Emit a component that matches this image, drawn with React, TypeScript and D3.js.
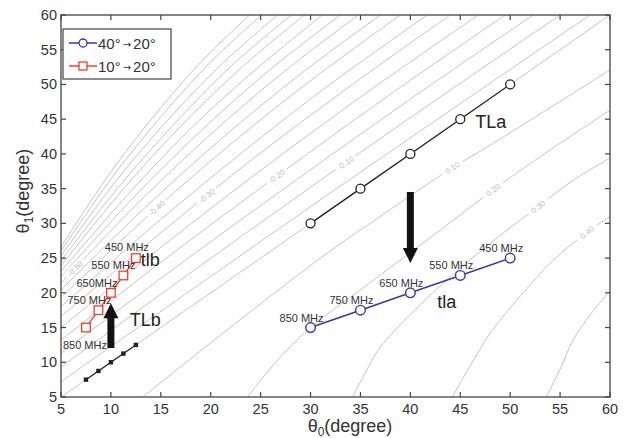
import React from 'react';
import * as d3 from 'd3';

// axis ticks
const xTicks = [5, 10, 15, 20, 25, 30, 35, 40, 45, 50, 55, 60];
const yTicks = [5, 10, 15, 20, 25, 30, 35, 40, 45, 50, 55, 60];

// 40° -> 20° design (tla) and the original line TLa
const tlaTheta0 = [30, 35, 40, 45, 50];
const tlaTheta1 = [15, 17.5, 20, 22.5, 25];
const tlaLabels = ['850 MHz', '750 MHz', '650 MHz', '550 MHz', '450 MHz'];
const TLaTheta1 = [30, 35, 40, 45, 50];

// 10° -> 20° design (tlb) and the original line TLb
const tlbTheta0 = [7.5, 8.75, 10, 11.25, 12.5];
const tlbTheta1 = [15, 17.5, 20, 22.5, 25];
const tlbLabels = ['850 MHz', '750 MHz', '650MHz', '550 MHz', '450 MHz'];
const TLbTheta1 = [7.5, 8.75, 10, 11.25, 12.5];

// background contour lines, [theta0, theta1]
const contourNeg: [number, number][][] = [
  [[5, 7.2], [18.25, 20.6], [31.5, 33.9], [44.75, 47.0], [58, 60]],
  [[5, 9.3], [17.5, 22.4], [30, 35.2], [42.5, 47.7], [55, 60]],
  [[5, 11.3], [16.8, 24.0], [28.7, 36.4], [40.5, 48.4], [52.3, 60]],
  [[5, 13.2], [16.1, 25.6], [27.3, 37.5], [38.4, 49.0], [49.5, 60]],
  [[5, 15.0], [15.5, 27.1], [25.9, 38.6], [36.4, 49.6], [46.8, 60]],
  [[5, 16.6], [14.8, 28.4], [24.5, 39.6], [34.3, 50.1], [44, 60]],
  [[5, 18.0], [14.2, 29.6], [23.4, 40.5], [32.5, 50.6], [41.7, 60]],
  [[5, 19.3], [13.5, 30.8], [22, 41.4], [30.5, 51.1], [39, 60]],
  [[5, 20.4], [13, 31.7], [21, 42.1], [29, 51.5], [37, 60]],
  [[5, 21.4], [12.5, 32.6], [19.9, 42.7], [27.4, 51.9], [34.8, 60]],
  [[5, 22.3], [12, 33.3], [19, 43.3], [26, 52.2], [33, 60]],
  [[5, 23.1], [11.6, 34.0], [18.1, 43.8], [24.7, 52.4], [31.2, 60]],
  [[5, 23.9], [11.1, 34.7], [17.2, 44.3], [23.3, 52.7], [29.4, 60]],
  [[5, 24.6], [10.8, 35.3], [16.6, 44.7], [22.3, 53.0], [28.1, 60]],
  [[5, 25.3], [10.4, 35.9], [15.9, 45.2], [21.3, 53.2], [26.7, 60]],
  [[5, 26.0], [10.0, 36.4], [15.1, 45.5], [20.1, 53.4], [25.1, 60]],
  [[5, 26.6], [9.7, 36.8], [14.5, 45.8], [19.2, 53.5], [23.9, 60]],
];
const contourZero: [number, number][] = [[5, 5], [60, 60]];
const contourPos: [number, number][][] = [
  [[13.2, 5], [20, 12.8], [31, 25], [38, 32], [44.2, 38], [47.7, 41], [60, 52.1]],
  [[23.7, 5], [26.5, 10], [30, 15], [36, 21.5], [42.5, 28.5], [48.3, 34.8], [52, 38.6], [60, 46.3]],
  [[34.2, 5], [35.5, 8.5], [37, 12.2], [43, 21], [49.3, 28.6], [52.8, 32.4], [56.3, 36.2], [60, 39.4]],
  [[44.2, 5], [46, 9.5], [48, 14.2], [51, 19.5], [54.3, 24.7], [57.7, 28.7], [60, 31]],
  [[53.6, 5], [55, 9], [56.3, 13.2], [58, 16.8], [60, 20.3]],
];

const contourLabelText = ['-0.50', '-0.40', '-0.30', '-0.20', '-0.10', '0.10', '0.20', '0.30', '0.40'];
const contourLabelLine = ['n9', 'n7', 'n5', 'n3', 'n1', 'p0', 'p1', 'p2', 'p3'];
const contourLabelTheta0 = [6.4, 14.6, 19.6, 26.6, 33.5, 44.2, 48.3, 52.8, 57.7];

const FONT = '"Liberation Sans", Arial, Helvetica, sans-serif';
const BLUE = '#3a36a6';
const RED = '#f0402c';
const DARK = '#222';
const GRID = '#c4c4c4';

const App = () => {
  const width = 626;
  const height = 438;
  const left = 61, right = 610, top = 15, bottom = 397;

  const x = d3.scaleLinear().domain([5, 60]).range([left, right]);
  const y = d3.scaleLinear().domain([5, 60]).range([bottom, top]);

  const smooth = d3.line<[number, number]>()
    .x(d => x(d[0]))
    .y(d => y(d[1]))
    .curve(d3.curveCatmullRom.alpha(0.5));
  const straight = d3.line<[number, number]>()
    .x(d => x(d[0]))
    .y(d => y(d[1]));

  const getLine = (key: string) => key[0] === 'n' ? contourNeg[+key.slice(1)] : contourPos[+key.slice(1)];

  // place label on contour line, rotated along it
  const labels = contourLabelText.map((text, i) => {
    const pts = getLine(contourLabelLine[i]);
    const t0 = contourLabelTheta0[i];
    let k = 0;
    while (k < pts.length - 2 && pts[k + 1][0] < t0) k++;
    const a = pts[k], b = pts[k + 1];
    const f = (t0 - a[0]) / (b[0] - a[0]);
    const t1 = a[1] + f * (b[1] - a[1]);
    const ang = Math.atan2(y(b[1]) - y(a[1]), x(b[0]) - x(a[0])) * 180 / Math.PI;
    return { text, px: x(t0), py: y(t1), ang };
  });

  const tla = d3.zip(tlaTheta0, tlaTheta1) as [number, number][];
  const TLa = d3.zip(tlaTheta0, TLaTheta1) as [number, number][];
  const tlb = d3.zip(tlbTheta0, tlbTheta1) as [number, number][];
  const TLb = d3.zip(tlbTheta0, TLbTheta1) as [number, number][];

  const arrows = [
    { t0: 10, from: 12.05, to: 18.5 },
    { t0: 40, from: 34.5, to: 24.3 },
  ];
  const arrowPath = (a: { t0: number, from: number, to: number }) => {
    const cx = x(a.t0);
    const yb = y(a.from), yt = y(a.to);
    const dir = yt < yb ? 1 : -1;
    const hw = 3.5, hh = 7.5, hl = 15;
    const yh = yt + dir * hl;
    return `M${cx - hw},${yb}L${cx - hw},${yh}L${cx - hh},${yh}L${cx},${yt}L${cx + hh},${yh}L${cx + hw},${yh}L${cx + hw},${yb}Z`;
  };

  return (
    <svg width={width} height={height} style={{ position: 'absolute', left: 0, top: 0, background: '#fff' }}
      fontFamily={FONT}>
      <defs>
        <clipPath id="plot-clip">
          <rect x={left} y={top} width={right - left} height={bottom - top} />
        </clipPath>
      </defs>

      {/* contour background */}
      <g clipPath="url(#plot-clip)" fill="none" stroke={GRID} strokeWidth={1}>
        {contourNeg.map((pts, i) => <path key={'n' + i} d={smooth(pts) || ''} />)}
        <path d={straight(contourZero) || ''} />
        {contourPos.map((pts, i) => <path key={'p' + i} d={smooth(pts) || ''} />)}
      </g>
      <g>
        {labels.map(l => (
          <g key={l.text} transform={`translate(${l.px},${l.py}) rotate(${l.ang})`}>
            <rect x={-12} y={-4.5} width={24} height={9} fill="#fff" />
            <text textAnchor="middle" dy="0.35em" fontSize={8} fill="#bcbcbc">{l.text}</text>
          </g>
        ))}
      </g>

      {/* frame, ticks */}
      <rect x={left} y={top} width={right - left} height={bottom - top} fill="none" stroke="#444" strokeWidth={1.3} />
      <g stroke="#444" strokeWidth={1.2}>
        {xTicks.map(t => (
          <g key={'xt' + t}>
            <line x1={x(t)} x2={x(t)} y1={bottom} y2={bottom - 5} />
            <line x1={x(t)} x2={x(t)} y1={top} y2={top + 5} />
          </g>
        ))}
        {yTicks.map(t => (
          <g key={'yt' + t}>
            <line x1={left} x2={left + 5} y1={y(t)} y2={y(t)} />
            <line x1={right} x2={right - 5} y1={y(t)} y2={y(t)} />
          </g>
        ))}
      </g>
      <g fontSize={14.5} fill="#333">
        {xTicks.map(t => (
          <text key={'xl' + t} x={x(t)} y={bottom + 17} textAnchor="middle">{t}</text>
        ))}
        {yTicks.map(t => (
          <text key={'yl' + t} x={left - 4} y={y(t) + 5} textAnchor="end">{t}</text>
        ))}
      </g>
      <text x={350} y={432} textAnchor="middle" fontSize={18} fill="#333">
        θ<tspan fontSize={12} dy={4}>0</tspan><tspan dy={-4}>(degree)</tspan>
      </text>
      <text transform="translate(29,191) rotate(-90)" textAnchor="middle" fontSize={18} fill="#333">
        θ<tspan fontSize={12} dy={4}>1</tspan><tspan dy={-4}>(degree)</tspan>
      </text>

      {/* TLa / TLb original lines */}
      <path d={straight(TLa) || ''} fill="none" stroke={DARK} strokeWidth={1.3} />
      {TLa.map((d, i) => (
        <circle key={'TLa' + i} cx={x(d[0])} cy={y(d[1])} r={4.5} fill="#fff" stroke={DARK} strokeWidth={1.3} />
      ))}
      <path d={straight(TLb) || ''} fill="none" stroke={DARK} strokeWidth={1.2} />
      {TLb.map((d, i) => (
        <rect key={'TLb' + i} x={x(d[0]) - 2.2} y={y(d[1]) - 2.2} width={4.4} height={4.4} fill={DARK} />
      ))}

      {/* tla / tlb */}
      <path d={straight(tla) || ''} fill="none" stroke={BLUE} strokeWidth={1.5} />
      {tla.map((d, i) => (
        <circle key={'tla' + i} cx={x(d[0])} cy={y(d[1])} r={4.8} fill="#fff" stroke={BLUE} strokeWidth={1.4} />
      ))}
      <path d={straight(tlb) || ''} fill="none" stroke={RED} strokeWidth={1.4} />
      {tlb.map((d, i) => (
        <rect key={'tlb' + i} x={x(d[0]) - 4.3} y={y(d[1]) - 4.3} width={8.6} height={8.6} fill="#fff" stroke={RED} strokeWidth={1.3} />
      ))}

      {/* frequency labels */}
      <g fontSize={11} fill="#333" textAnchor="middle">
        {tla.map((d, i) => (
          <text key={'fa' + i} x={x(d[0]) - 9} y={y(d[1]) - 6}>{tlaLabels[i]}</text>
        ))}
        {tlb.map((d, i) => (
          <text key={'fb' + i}
            x={x(d[0]) + (i === 0 ? -1 : i === 2 ? -14 : i === 3 ? -10 : -9)}
            y={y(d[1]) + (i === 0 ? 21 : i === 4 ? -7 : -6)}>{tlbLabels[i]}</text>
        ))}
      </g>

      {/* arrows */}
      {arrows.map((a, i) => <path key={'ar' + i} d={arrowPath(a)} fill="#111" />)}

      {/* line names */}
      <g fontSize={18} fill="#222">
        <text x={x(46.5)} y={y(44.6) + 6}>TLa</text>
        <text x={x(42.7)} y={y(18.7) + 6}>tla</text>
        <text x={x(13.0)} y={y(25) + 8}>tlb</text>
        <text x={x(11.9)} y={y(16.1) + 6}>TLb</text>
      </g>

      {/* legend */}
      <g>
        <rect x={63} y={29} width={108} height={50} fill="#fff" stroke="#444" strokeWidth={1.2} />
        <line x1={69} x2={97} y1={43} y2={43} stroke={BLUE} strokeWidth={1.5} />
        <circle cx={83} cy={43} r={4} fill="#fff" stroke={BLUE} strokeWidth={1.3} />
        <text x={98} y={48.5} fontSize={15} fill="#333">
          40°<tspan fontFamily="DejaVu Sans" fontSize={10} dx={2} dy={-1}>→</tspan><tspan dx={2} dy={1}>20°</tspan>
        </text>
        <line x1={69} x2={97} y1={66} y2={66} stroke={RED} strokeWidth={1.5} />
        <rect x={79} y={62} width={8} height={8} fill="#fff" stroke={RED} strokeWidth={1.3} />
        <text x={98} y={71.5} fontSize={15} fill="#333">
          10°<tspan fontFamily="DejaVu Sans" fontSize={10} dx={2} dy={-1}>→</tspan><tspan dx={2} dy={1}>20°</tspan>
        </text>
      </g>
    </svg>
  );
};

export default App;
